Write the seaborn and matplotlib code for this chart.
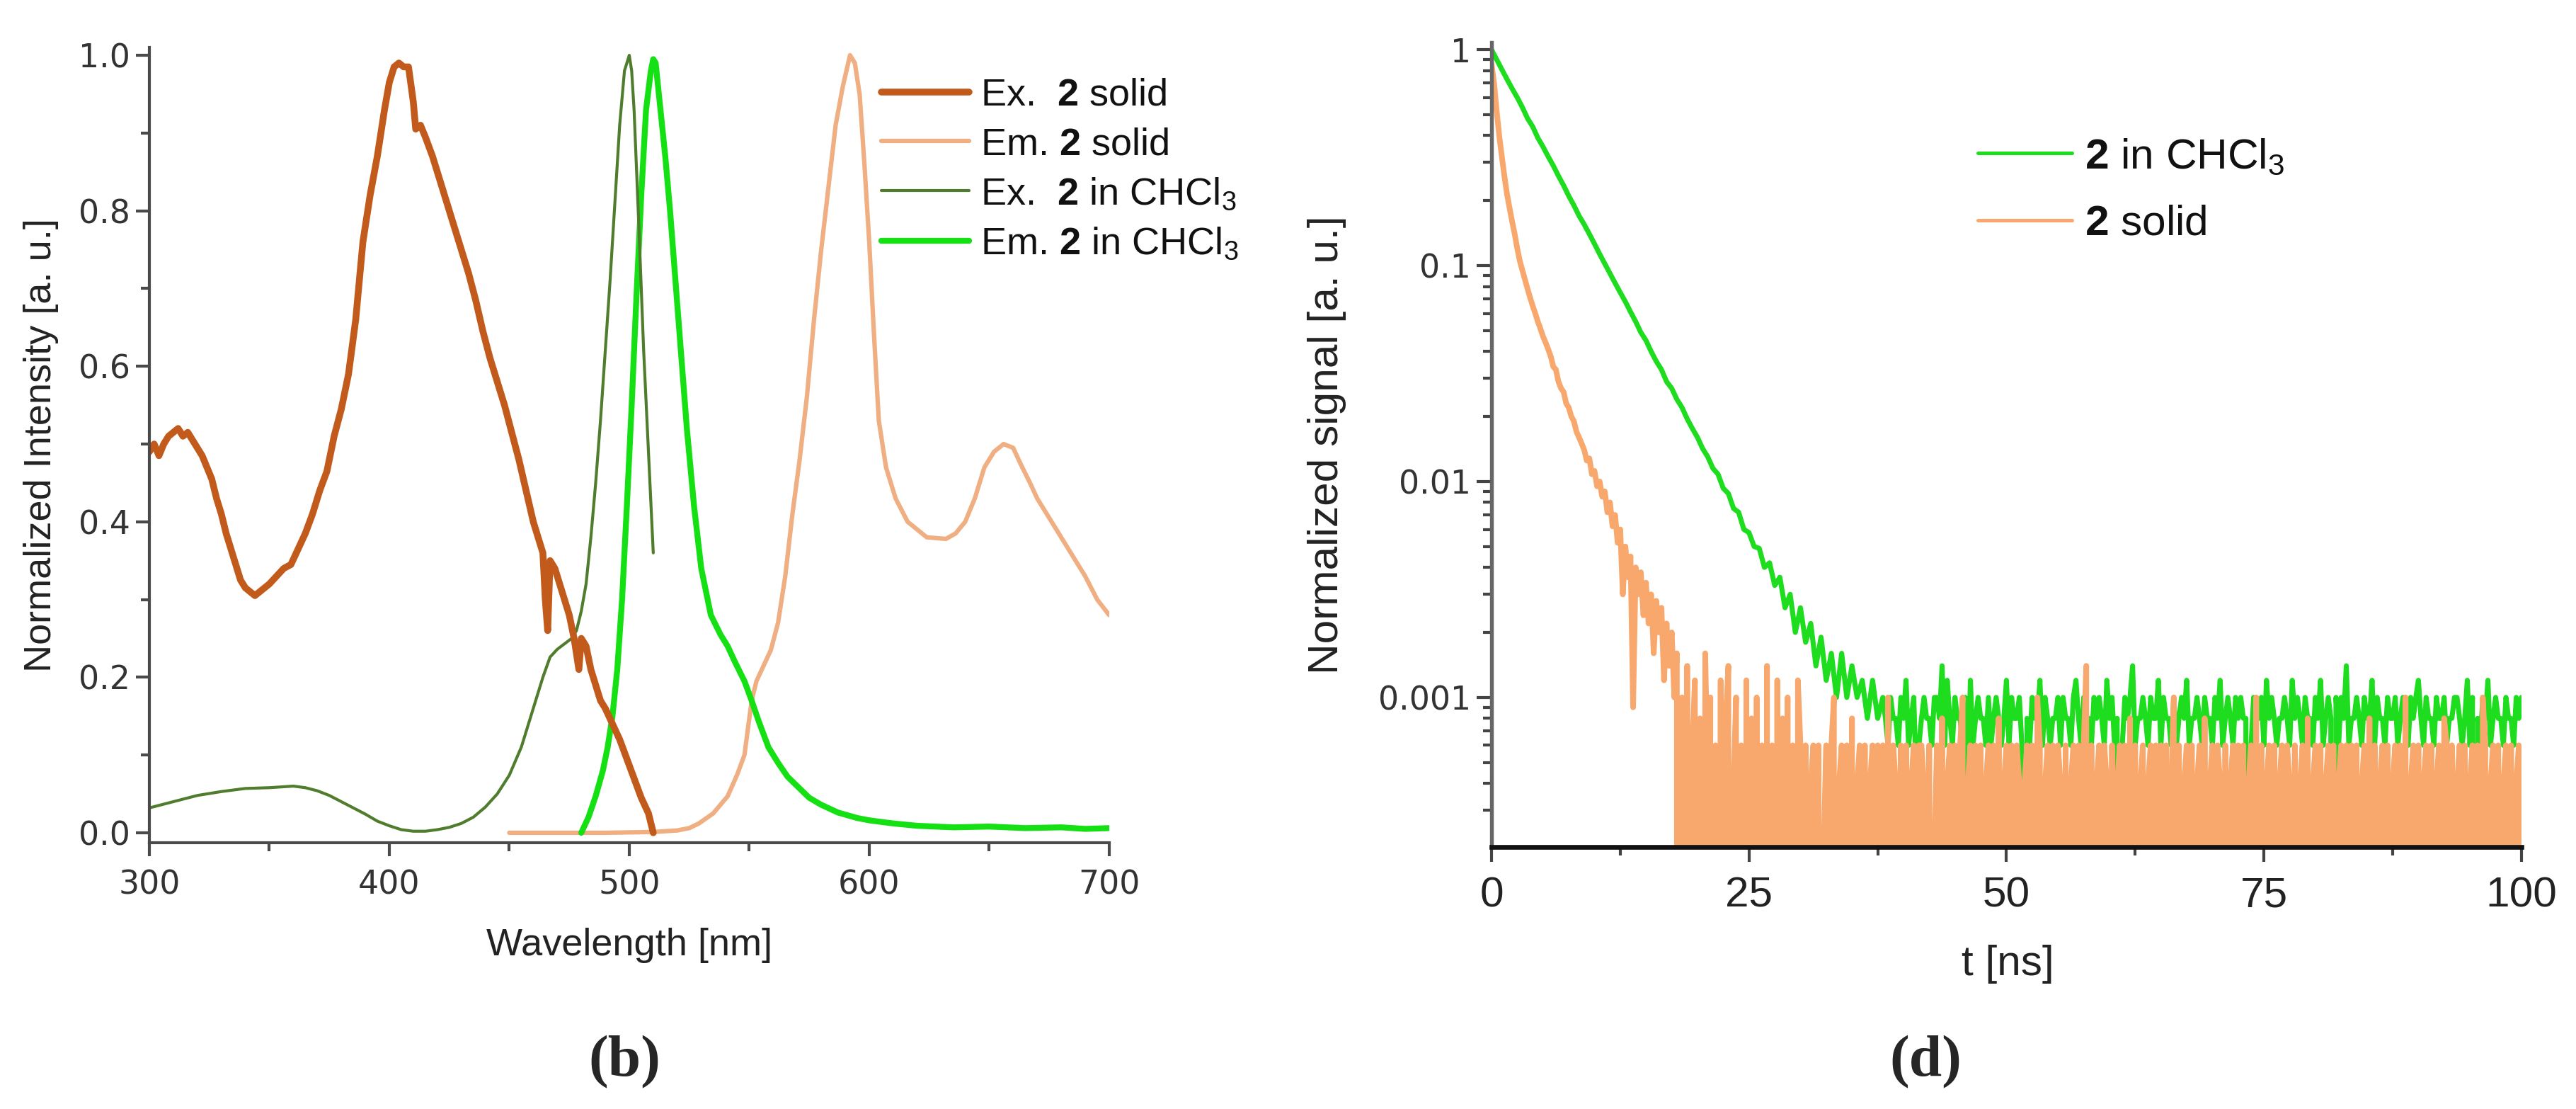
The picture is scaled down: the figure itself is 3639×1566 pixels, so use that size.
import numpy as np
import pandas as pd
import matplotlib
matplotlib.use("Agg")
import matplotlib.pyplot as plt
import seaborn as sns
from matplotlib.ticker import MultipleLocator, LogLocator, NullFormatter

# ---------------- (b) steady-state spectra ----------------
ex_solid_nm = [300, 302, 304, 306, 308, 310, 312, 314, 316, 318, 320, 322, 324, 326, 328, 330,
               332, 334, 336, 338, 340, 342, 344, 346, 348, 350, 353, 356, 359, 362, 365, 368,
               371, 374, 377, 380, 383, 386, 389, 392, 395, 398, 400, 402, 404, 406, 408, 410,
               411, 413, 415, 418, 421, 424, 427, 430, 433, 436, 439, 442, 445, 448, 451, 454,
               457, 460, 462, 464, 465, 466, 467, 469, 471, 473, 475, 477, 479, 480, 482, 484,
               486, 488, 490, 493, 496, 499, 502, 505, 508, 510]
ex_solid = [0.49, 0.50, 0.485, 0.50, 0.51, 0.515, 0.52, 0.51, 0.515, 0.505, 0.495, 0.485, 0.47,
            0.455, 0.43, 0.41, 0.385, 0.365, 0.345, 0.325, 0.315, 0.31, 0.305, 0.31, 0.315, 0.32,
            0.33, 0.34, 0.345, 0.365, 0.385, 0.41, 0.44, 0.465, 0.51, 0.545, 0.59, 0.66, 0.76,
            0.82, 0.87, 0.93, 0.965, 0.985, 0.99, 0.985, 0.985, 0.94, 0.905, 0.91, 0.895, 0.87,
            0.84, 0.81, 0.78, 0.75, 0.72, 0.685, 0.645, 0.61, 0.58, 0.55, 0.515, 0.48, 0.44, 0.40,
            0.38, 0.36, 0.30, 0.26, 0.35, 0.34, 0.32, 0.30, 0.28, 0.25, 0.21, 0.25, 0.24, 0.21,
            0.19, 0.17, 0.16, 0.14, 0.12, 0.095, 0.07, 0.045, 0.025, 0.0]

em_solid_nm = [450, 470, 490, 510, 520, 525, 529, 535, 541, 545, 548, 551, 553, 556, 559, 562,
               565, 568, 571, 574, 577, 580, 583, 586, 589, 592, 594, 596, 598, 600, 602, 604,
               607, 611, 616, 620, 624, 632, 636, 640, 644, 648, 652, 656, 660, 663, 667, 670,
               675, 680, 685, 690, 695, 700]
em_solid = [0.0, 0.0, 0.0, 0.001, 0.003, 0.006, 0.012, 0.025, 0.047, 0.075, 0.10, 0.17, 0.195,
            0.215, 0.235, 0.27, 0.33, 0.41, 0.48, 0.56, 0.66, 0.75, 0.83, 0.91, 0.96, 1.0, 0.99,
            0.95, 0.86, 0.76, 0.64, 0.53, 0.47, 0.43, 0.40, 0.39, 0.38, 0.378, 0.385, 0.40, 0.43,
            0.47, 0.49, 0.50, 0.495, 0.475, 0.45, 0.43, 0.405, 0.38, 0.355, 0.33, 0.30, 0.28]

ex_chcl3_nm = [300, 310, 320, 330, 340, 350, 360, 365, 370, 375, 380, 385, 390, 395, 400, 405,
               410, 415, 420, 425, 430, 435, 440, 445, 450, 455, 460, 464, 467, 470, 473, 476,
               478, 480, 482, 484, 486, 488, 490, 492, 494, 496, 498, 500, 501, 502, 504, 506,
               508, 510]
ex_chcl3 = [0.032, 0.04, 0.048, 0.053, 0.057, 0.058, 0.06, 0.058, 0.054, 0.048, 0.04, 0.032,
            0.024, 0.015, 0.009, 0.004, 0.002, 0.002, 0.004, 0.007, 0.012, 0.02, 0.033, 0.05,
            0.074, 0.11, 0.16, 0.20, 0.226, 0.236, 0.243, 0.25, 0.26, 0.285, 0.32, 0.38, 0.45,
            0.53, 0.62, 0.71, 0.81, 0.91, 0.98, 1.0, 0.98, 0.93, 0.78, 0.62, 0.49, 0.36]

em_chcl3_nm = [480, 483, 486, 489, 491, 493, 495, 497, 499, 501, 503, 505, 507, 509, 510, 511,
               513, 515, 517, 519, 521, 524, 527, 530, 534, 538, 541, 544, 548, 551, 554, 558,
               562, 566, 570, 575, 580, 587, 595, 600, 610, 620, 635, 650, 665, 680, 690, 700]
em_chcl3 = [0.0, 0.02, 0.047, 0.08, 0.11, 0.15, 0.21, 0.30, 0.42, 0.55, 0.69, 0.82, 0.93, 0.98,
            0.995, 0.99, 0.93, 0.87, 0.80, 0.72, 0.64, 0.52, 0.42, 0.34, 0.28, 0.255, 0.24, 0.22,
            0.195, 0.17, 0.143, 0.11, 0.09, 0.072, 0.06, 0.045, 0.036, 0.026, 0.019, 0.016, 0.012,
            0.009, 0.007, 0.008, 0.006, 0.007, 0.005, 0.006]

# ---------------- (d) decay traces ----------------
count_unit = 2e-4            # one detected count in normalized units
green_decay_step = 0.5
green_decay = [1.0, 0.90, 0.81, 0.73, 0.66, 0.60, 0.54, 0.48, 0.44, 0.39,
               0.355, 0.32, 0.29, 0.26, 0.235, 0.21, 0.19, 0.17, 0.155, 0.14,
               0.126, 0.113, 0.102, 0.092, 0.083, 0.075, 0.068, 0.061, 0.055, 0.049,
               0.045, 0.040, 0.036, 0.033, 0.029, 0.027, 0.024, 0.022, 0.0195, 0.0176,
               0.0160, 0.0142, 0.0130, 0.0115, 0.0108, 0.0093, 0.0088, 0.0075, 0.0072, 0.0060,
               0.0058, 0.0050, 0.0049, 0.0040, 0.0042, 0.0033, 0.0036, 0.0026, 0.0030, 0.0020,
               0.0026, 0.0018, 0.0022, 0.0014, 0.0019, 0.0012, 0.0016, 0.0010, 0.0016, 0.0010,
               0.0014, 0.0010, 0.0012, 0.0008, 0.0012, 0.0008, 0.0010]
green_floor_start = 38.25
green_floor_counts = ("4354435463452345443554736435443526345443"
                      "5345434635445304354463543445354435643544"
                      "3545436453403545734454354463544353454634"
                      "4543544354634543545440354453645434454364"
                      "5435443546345405354734454354463544354453"
                      "4543545643544354453445543463504354634544"
                      "3544354543")

solid_decay_step = 0.25
solid_decay = [0.86, 0.70, 0.52, 0.40, 0.32, 0.26, 0.215, 0.185, 0.16, 0.14, 0.12, 0.105,
               0.095, 0.086, 0.078, 0.071, 0.065, 0.060, 0.055, 0.051, 0.047, 0.044, 0.041,
               0.038, 0.034, 0.033, 0.029, 0.027, 0.026, 0.023, 0.022, 0.020, 0.019, 0.017,
               0.016, 0.0150, 0.0140, 0.0125, 0.0128, 0.0108, 0.0112, 0.0095, 0.0100, 0.0085,
               0.0090, 0.0072, 0.0080, 0.0062, 0.0070, 0.0052, 0.0060, 0.0030, 0.0050, 0.0036,
               0.0045, 0.0009, 0.0040, 0.0030, 0.0038, 0.0024, 0.0034, 0.0022, 0.0030, 0.0016,
               0.0028, 0.0020, 0.0026, 0.0012, 0.0022, 0.0014, 0.0020, 0.0010, 0.0016]
solid_floor_start = 18.25
solid_floor_counts = ("0507036040825030604702503060405030703060"
                      "4050306"
                      "3030230301303502303040230302303130503203"
                      "0302303320301304023030350230303023030402"
                      "3030320230305302303032030230303703023032"
                      "0302303040302302303230302503023030230402"
                      "3032030230303023050302303023032030230402"
                      "3030230302303230302304030230302303050230"
                      "30230302304303023030230305302303023030230")
floor_step = 0.25

# ---------------- style ----------------
sns.set_theme(style="white")
plt.rcParams["font.family"] = ["Liberation Sans", "DejaVu Sans"]
plt.rcParams["mathtext.fontset"] = "custom"
plt.rcParams["mathtext.rm"] = "Liberation Sans"
plt.rcParams["mathtext.it"] = "Liberation Sans:italic"
plt.rcParams["mathtext.bf"] = "Liberation Sans:bold"
plt.rcParams["path.simplify"] = False

C_EX_SOLID = "#C25A1C"
C_EM_SOLID = "#F0AF82"
C_EX_CHCL3 = "#507D2D"
C_EM_CHCL3 = "#14E014"
C_R_GREEN = "#1EDC1E"
C_R_ORANGE = "#F8A86C"

fig = plt.figure(figsize=(3639 / 300, 1566 / 300), dpi=300)
axL = fig.add_axes([0.05798, 0.2401, 0.3726, 0.7171])
axR = fig.add_axes([0.5790, 0.2363, 0.3998, 0.7254])


def line(ax, x, y, color, lw):
    df = pd.DataFrame({"x": np.asarray(x, float), "y": np.asarray(y, float)})
    sns.lineplot(data=df, x="x", y="y", ax=ax, color=color, linewidth=lw,
                 estimator=None, sort=False, errorbar=None)
    return ax.lines[-1]


# ---- left panel ----
h_em_s = line(axL, em_solid_nm, em_solid, C_EM_SOLID, 1.5)
h_em_c = line(axL, em_chcl3_nm, em_chcl3, C_EM_CHCL3, 2.0)
h_ex_c = line(axL, ex_chcl3_nm, ex_chcl3, C_EX_CHCL3, 1.0)
h_ex_s = line(axL, ex_solid_nm, ex_solid, C_EX_SOLID, 2.3)

axL.set_xlim(300, 700)
axL.set_ylim(-0.0128, 1.010)
tickfont = dict(fontfamily="DejaVu Sans", fontsize=11, color="#333333")
axL.set_xticks([300, 400, 500, 600, 700], ["300", "400", "500", "600", "700"], **tickfont)
axL.set_yticks([0, 0.2, 0.4, 0.6, 0.8, 1.0], ["0.0", "0.2", "0.4", "0.6", "0.8", "1.0"], **tickfont)
axL.xaxis.set_minor_locator(MultipleLocator(50))
axL.yaxis.set_minor_locator(MultipleLocator(0.1))
for s in ["top", "right"]:
    axL.spines[s].set_visible(False)
for s in ["left", "bottom"]:
    axL.spines[s].set_color("#4a4a4a")
    axL.spines[s].set_linewidth(1.0)
axL.tick_params(which="both", direction="out", color="#4a4a4a", width=1.0)
axL.tick_params(which="major", length=4.5)
axL.tick_params(which="minor", length=2.8)
axL.tick_params(axis="x", which="both", pad=4.5, bottom=True)
axL.tick_params(axis="y", which="both", pad=2, left=True)

axL.set_xlabel("Wavelength [nm]", fontsize=13, color="#222222")
axL.set_ylabel("Normalized Intensity [a. u.]", fontsize=13, color="#222222")
axL.xaxis.set_label_coords(0.5, -0.129)
axL.xaxis.label.set_verticalalignment("center")
axL.yaxis.set_label_coords(-0.1128, 0.5)
axL.yaxis.label.set_verticalalignment("center")

legL = axL.legend([h_ex_s, h_em_s, h_ex_c, h_em_c],
                  ["Ex.  $\\mathbf{2}$ solid", "Em. $\\mathbf{2}$ solid",
                   "Ex.  $\\mathbf{2}$ in CHCl$_3$", "Em. $\\mathbf{2}$ in CHCl$_3$"],
                  loc="upper left", bbox_to_anchor=(0.7625, 0.962), borderaxespad=0,
                  borderpad=0, frameon=False, fontsize=13, handlelength=2.29,
                  handletextpad=0.3, labelspacing=0.36)
for t in legL.get_texts():
    t.set_color("#111111")

# ---- right panel ----
g_t = np.concatenate([np.arange(len(green_decay)) * green_decay_step,
                      green_floor_start + np.arange(len(green_floor_counts)) * floor_step])
g_v = np.concatenate([green_decay, [int(c) * count_unit for c in green_floor_counts]])
s_t = np.concatenate([np.arange(len(solid_decay)) * solid_decay_step,
                      solid_floor_start + np.arange(len(solid_floor_counts)) * floor_step])
s_v = np.concatenate([solid_decay, [int(c) * count_unit for c in solid_floor_counts]])

h_g = line(axR, g_t, g_v, C_R_GREEN, 1.7)
h_s = line(axR, s_t, s_v, C_R_ORANGE, 1.9)

axR.set_yscale("log", nonpositive="clip")
axR.set_xlim(0, 100)
axR.set_ylim(2.03e-4, 1.079)
axR.set_xticks([0, 25, 50, 75, 100], ["0", "25", "50", "75", "100"],
               fontfamily="Liberation Sans", fontsize=14.5, color="#222222")
axR.xaxis.set_minor_locator(MultipleLocator(12.5))
axR.set_yticks([1e-3, 1e-2, 1e-1, 1], ["0.001", "0.01", "0.1", "1"], **tickfont)
axR.yaxis.set_minor_locator(LogLocator(base=10, subs=np.arange(2, 10)))
axR.yaxis.set_minor_formatter(NullFormatter())
for s in ["top", "right"]:
    axR.spines[s].set_visible(False)
axR.spines["left"].set_color("#666666")
axR.spines["left"].set_linewidth(1.3)
axR.spines["bottom"].set_color("#111111")
axR.spines["bottom"].set_linewidth(1.6)
axR.tick_params(which="both", direction="out", color="#444444", width=1.0)
axR.tick_params(which="major", length=5)
axR.tick_params(which="minor", length=2.8)
axR.tick_params(axis="x", which="both", pad=5, bottom=True)
axR.tick_params(axis="y", which="both", pad=2, left=True)

axR.set_xlabel("t [ns]", fontsize=14.5, color="#222222")
axR.set_ylabel("Normalized signal [a. u.]", fontsize=14.5, color="#222222")
axR.xaxis.set_label_coords(0.501, -0.146)
axR.xaxis.label.set_verticalalignment("center")
axR.yaxis.set_label_coords(-0.1595, 0.5)
axR.yaxis.label.set_verticalalignment("center")

legR = axR.legend([h_g, h_s], ["$\\mathbf{2}$ in CHCl$_3$", "$\\mathbf{2}$ solid"],
                  loc="upper left", bbox_to_anchor=(0.4722, 0.882), borderaxespad=0,
                  borderpad=0, frameon=False, fontsize=14.5, handlelength=2.2,
                  handletextpad=0.3, labelspacing=0.65)
for t in legR.get_texts():
    t.set_color("#111111")
for h in legR.legend_handles:
    h.set_linewidth(1.2)

fig.text(0.2424, 0.0421, "(b)", ha="center", va="center", fontfamily="Liberation Serif",
         fontweight="bold", fontsize=20)
fig.text(0.7475, 0.0421, "(d)", ha="center", va="center", fontfamily="Liberation Serif",
         fontweight="bold", fontsize=20)

fig.savefig("out.png", dpi=300)
